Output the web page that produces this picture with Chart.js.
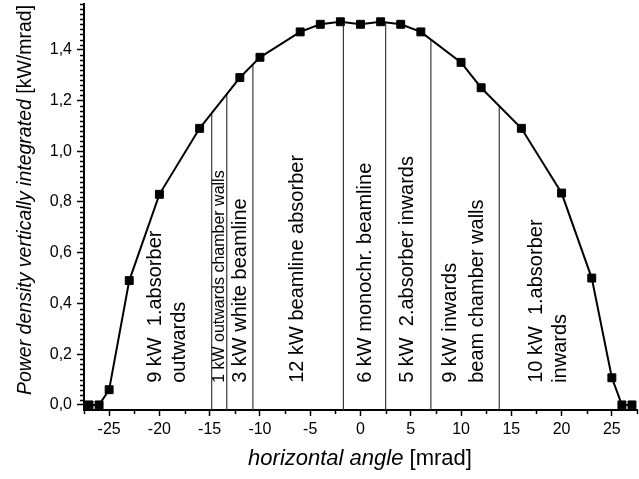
<!DOCTYPE html>
<html>
<head>
<meta charset="utf-8">
<script src="https://cdn.jsdelivr.net/npm/chart.js@4"></script>
<style>
  html, body { margin: 0; padding: 0; background: #fff; overflow: hidden; }
</style>
</head>
<body>
<canvas id="myChart" width="639" height="479"></canvas>
<script>
// measured power curve
const angles = [-27, -26, -25, -23, -20, -16, -12, -10, -6, -4, -2, 0, 2, 4, 6, 10, 12, 16, 20, 23, 25, 26, 27];
const power = [0, 0, 0.06, 0.49, 0.83, 1.09, 1.29, 1.37, 1.47, 1.50, 1.51, 1.50, 1.51, 1.50, 1.47, 1.35, 1.25, 1.09, 0.835, 0.50, 0.107, 0, 0];

// angles where the power is split between components
const boundaries = [-14.8, -13.3, -10.7, -1.7, 2.5, 7.0, 13.8];

const xTicks = [-25, -20, -15, -10, -5, 0, 5, 10, 15, 20, 25];
const yTicks = [0, 0.2, 0.4, 0.6, 0.8, 1.0, 1.2, 1.4];

// text written up the regions: [text, angle of the line centre, small]
const regionText = [
  ['9 kW  1.absorber', -20.4],
  ['outwards', -18.0],
  ['1 kW outwards chamber walls', -14.05, true],
  ['3 kW white beamline', -11.9],
  ['12 kW beamline absorber', -6.3],
  ['6 kW monochr. beamline', 0.45],
  ['5 kW  2.absorber inwards', 4.7],
  ['9 kW inwards', 8.9],
  ['beam chamber walls', 11.6],
  ['10 kW  1.absorber', 17.5],
  ['inwards', 19.9]
];

const FONT = "'Liberation Sans', Arial, Helvetica, sans-serif";
Chart.defaults.font.family = FONT;
Chart.defaults.color = '#000';

function curveAt(x) {
  for (let i = 0; i < angles.length - 1; i++) {
    if (x >= angles[i] && x <= angles[i + 1]) {
      const t = (x - angles[i]) / (angles[i + 1] - angles[i]);
      return power[i] + t * (power[i + 1] - power[i]);
    }
  }
  return 0;
}

const Y_MIN = -0.02, Y_MAX = 1.58;

const datasets = [{
  data: angles.map((a, i) => ({ x: a, y: power[i] })),
  borderColor: '#000',
  backgroundColor: '#000',
  borderWidth: 2,
  pointStyle: 'rect',
  pointRadius: 5.6,
  pointBorderWidth: 1,
  tension: 0,
  clip: false,
  order: 0
}];
boundaries.forEach(b => {
  datasets.push({
    data: [{ x: b, y: Y_MIN }, { x: b, y: curveAt(b) }],
    borderColor: '#3a3a3a',
    borderWidth: 1.2,
    pointRadius: 0,
    order: 1
  });
});

// minor ticks, axis titles and region text
const extras = {
  id: 'extras',
  afterDraw(chart) {
    const ctx = chart.ctx;
    const xs = chart.scales.x, ys = chart.scales.y;
    const area = chart.chartArea;
    ctx.save();
    ctx.strokeStyle = '#000';
    ctx.lineWidth = 1.5;
    ctx.beginPath();
    for (let v = -27.5; v <= 27.5 + 1e-9; v += 5) {
      const px = Math.round(xs.getPixelForValue(v)) + 0.5;
      ctx.moveTo(px, area.bottom);
      ctx.lineTo(px, area.bottom + 4);
    }
    for (let k = 0; k * 0.02 <= Y_MAX; k++) {
      if (k % 10 === 0) continue;
      const py = Math.round(ys.getPixelForValue(k * 0.02)) + 0.5;
      ctx.moveTo(area.left, py);
      ctx.lineTo(area.left - 4, py);
    }
    ctx.stroke();

    ctx.fillStyle = '#000';
    // region labels
    const y0 = ys.getPixelForValue(0.087);
    regionText.forEach(([txt, x, small]) => {
      ctx.save();
      ctx.translate(xs.getPixelForValue(x), y0);
      ctx.rotate(-Math.PI / 2);
      ctx.font = (small ? '16px ' : '20px ') + FONT;
      ctx.textAlign = 'left';
      ctx.textBaseline = 'middle';
      ctx.fillText(txt, 0, 0);
      ctx.restore();
    });

    // axis titles, partly italic
    function mixed(parts, size) {
      let w = 0;
      parts.forEach(p => {
        ctx.font = (p[1] ? 'italic ' : '') + size + 'px ' + FONT;
        w += ctx.measureText(p[0]).width;
      });
      let cx = -w / 2;
      ctx.textAlign = 'left';
      ctx.textBaseline = 'alphabetic';
      parts.forEach(p => {
        ctx.font = (p[1] ? 'italic ' : '') + size + 'px ' + FONT;
        ctx.fillText(p[0], cx, 0);
        cx += ctx.measureText(p[0]).width;
      });
    }
    ctx.save();
    ctx.translate(360, 465);
    mixed([['horizontal angle', true], [' [mrad]', false]], 22);
    ctx.restore();

    ctx.save();
    ctx.translate(31, 200);
    ctx.rotate(-Math.PI / 2);
    mixed([['Power density vertically integrated', true], [' [kW/mrad]', false]], 19.5);
    ctx.restore();
    ctx.restore();
  }
};

new Chart(document.getElementById('myChart'), {
  type: 'line',
  data: { datasets: datasets },
  options: {
    responsive: false,
    animation: false,
    layout: { autoPadding: false, padding: { top: 4, right: 2, left: 0, bottom: 0 } },
    plugins: { legend: { display: false }, tooltip: { enabled: false } },
    scales: {
      x: {
        type: 'linear',
        min: -27.5,
        max: 27.5,
        afterBuildTicks: s => { s.ticks = xTicks.map(v => ({ value: v })); },
        afterFit: s => { s.height = 69; s.paddingLeft = 0; s.paddingRight = 0; },
        ticks: { font: { size: 16 }, color: '#000', padding: 4, maxRotation: 0, callback: v => String(v) },
        grid: { drawOnChartArea: false, drawTicks: true, tickLength: 6, tickColor: '#000', tickWidth: 1.5 },
        border: { display: true, color: '#000', width: 2 }
      },
      y: {
        min: Y_MIN,
        max: Y_MAX,
        afterBuildTicks: s => { s.ticks = yTicks.map(v => ({ value: v })); },
        afterFit: s => { s.width = 84; s.paddingTop = 0; s.paddingBottom = 0; s.paddingLeft = 0; s.paddingRight = 0; },
        ticks: { font: { size: 16 }, color: '#000', padding: 5, callback: v => v.toFixed(1).replace('.', ',') },
        grid: { drawOnChartArea: false, drawTicks: true, tickLength: 7, tickColor: '#000', tickWidth: 1.5 },
        border: { display: true, color: '#000', width: 2 }
      }
    }
  },
  plugins: [extras]
});
</script>
</body>
</html>
